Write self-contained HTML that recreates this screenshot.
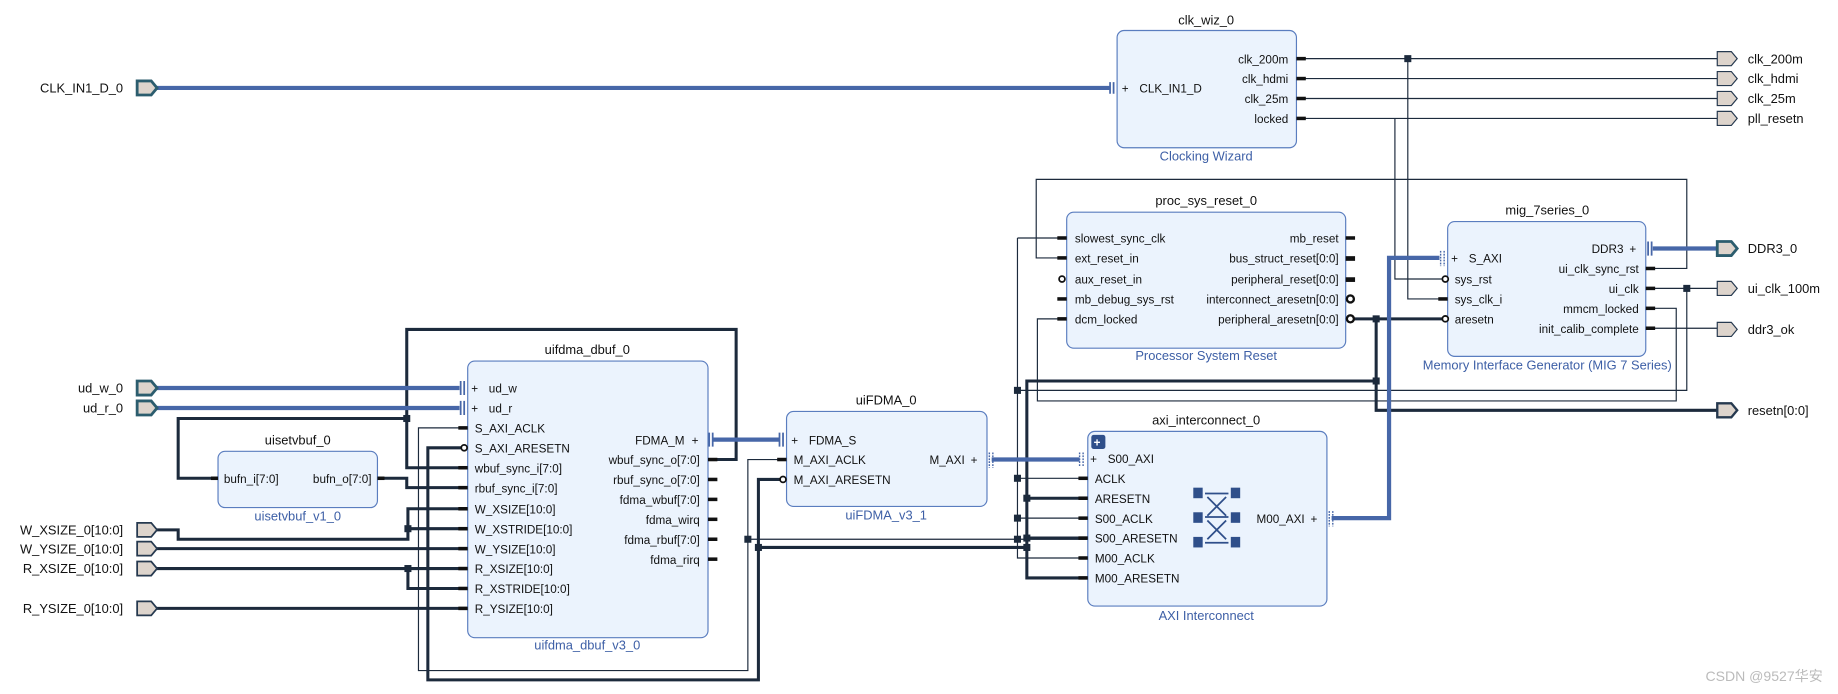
<!DOCTYPE html>
<html><head><meta charset="utf-8"><style>
html,body{margin:0;padding:0;background:#fff;}
svg{display:block}
text{font-family:"Liberation Sans","Noto Sans CJK SC",sans-serif;font-size:10px;fill:#111}
.t{font-size:11px;text-anchor:middle}
.s{font-size:11px;text-anchor:middle;fill:#3d5fa6}
.e{text-anchor:end}
.bx{fill:#ebf3fd;stroke:#5a7dbf;stroke-width:1}
.w{stroke:#1c2a3c;stroke-width:1;fill:none}
.W{stroke:#1c2a3c;stroke-width:2.6;fill:none}
.b{stroke:#4767a8;stroke-width:3.6;fill:none}
.p{fill:#ddd4cc;stroke:#26394f;stroke-width:1.5}
.pb{fill:#ddd4cc;stroke:#2c5d6e;stroke-width:2.4}
.pin{fill:#111}
.j{fill:#1c2a3c}
</style></head><body>
<svg width="1838" height="694" viewBox="0 0 1568 592" xmlns="http://www.w3.org/2000/svg">
<g class="w">
<path d="M1106 50H1465M1106 67H1465M1106 84H1465M1106 101H1465"/>
<path d="M1201 50V255H1233M1190 101V238H1233"/>
<path d="M1404 229H1439V153H884V220H910"/>
<path d="M1404 246H1465M1439 246V333H868M868 203H910M868 203V476H928M868 408H928M868 442H928M638 460H928"/>
<path d="M910 272H885V342H1430V263H1404"/>
<path d="M1404 280H1465"/>
<path d="M399 365H357V572H638V392H671"/>
</g>
<g class="W">
<path d="M1148 272H1233M1174 272V350H1465M1174 325H876V493H928M876 425H928M876 459H928M647 467H876"/>
<path d="M399 382H365V580H647V409H671"/>
<path d="M604 392H628V281H347V399H399M347 357H152V408H186M322 408H347V416H399"/>
<path d="M133 452H152V460H348V434H399M348 451H399M133 468H399M133 485H399M348 485V502H399M133 519H399"/>
</g>
<g class="b">
<path d="M133 75H947M133 331H392M133 348H392M608 375H665M846 392H921M1136 442H1185V220H1228M1410 212H1465"/>
</g>
<g class="j">
<rect x="1198" y="47" width="6" height="6"/><rect x="1436" y="243" width="6" height="6"/>
<rect x="865" y="330" width="6" height="6"/><rect x="865" y="405" width="6" height="6"/><rect x="865" y="439" width="6" height="6"/><rect x="865" y="457" width="6" height="6"/>
<rect x="873" y="422" width="6" height="6"/><rect x="873" y="456" width="6" height="6"/><rect x="873" y="464" width="6" height="6"/>
<rect x="1171" y="269" width="6" height="6"/><rect x="1171" y="322" width="6" height="6"/>
<rect x="344" y="354" width="6" height="6"/><rect x="345" y="448" width="6" height="6"/><rect x="345" y="482" width="6" height="6"/>
<rect x="635" y="457" width="6" height="6"/><rect x="644" y="464" width="6" height="6"/>
</g>
<g>
<polygon class="pb" points="117,69 129,69 134,75 129,81 117,81"/><text x="105" y="79" class="e" style="font-size:11px">CLK_IN1_D_0</text>
<polygon class="pb" points="117,325 129,325 134,331 129,337 117,337"/><text x="105" y="335" class="e" style="font-size:11px">ud_w_0</text>
<polygon class="pb" points="117,342 129,342 134,348 129,354 117,354"/><text x="105" y="352" class="e" style="font-size:11px">ud_r_0</text>
<polygon class="p" points="117,446 129,446 134,452 129,458 117,458"/><text x="105" y="456" class="e" style="font-size:11px">W_XSIZE_0[10:0]</text>
<polygon class="p" points="117,462 129,462 134,468 129,474 117,474"/><text x="105" y="472" class="e" style="font-size:11px">W_YSIZE_0[10:0]</text>
<polygon class="p" points="117,479 129,479 134,485 129,491 117,491"/><text x="105" y="489" class="e" style="font-size:11px">R_XSIZE_0[10:0]</text>
<polygon class="p" points="117,513 129,513 134,519 129,525 117,525"/><text x="105" y="523" class="e" style="font-size:11px">R_YSIZE_0[10:0]</text>
<polygon class="p" style="stroke-width:1" points="1465,44 1477,44 1482,50 1477,56 1465,56"/><text x="1491" y="54" style="font-size:11px">clk_200m</text>
<polygon class="p" style="stroke-width:1" points="1465,61 1477,61 1482,67 1477,73 1465,73"/><text x="1491" y="71" style="font-size:11px">clk_hdmi</text>
<polygon class="p" style="stroke-width:1" points="1465,78 1477,78 1482,84 1477,90 1465,90"/><text x="1491" y="88" style="font-size:11px">clk_25m</text>
<polygon class="p" style="stroke-width:1" points="1465,95 1477,95 1482,101 1477,107 1465,107"/><text x="1491" y="105" style="font-size:11px">pll_resetn</text>
<polygon class="pb" points="1465,206 1477,206 1482,212 1477,218 1465,218"/><text x="1491" y="216" style="font-size:11px">DDR3_0</text>
<polygon class="p" style="stroke-width:1" points="1465,240 1477,240 1482,246 1477,252 1465,252"/><text x="1491" y="250" style="font-size:11px">ui_clk_100m</text>
<polygon class="p" style="stroke-width:1" points="1465,275 1477,275 1482,281 1477,287 1465,287"/><text x="1491" y="285" style="font-size:11px">ddr3_ok</text>
<polygon class="p" style="stroke-width:2" points="1465,344 1477,344 1482,350 1477,356 1465,356"/><text x="1491" y="354" style="font-size:11px">resetn[0:0]</text>
</g>
<rect class="bx" x="953" y="26" width="153" height="100" rx="6"/>
<text class="t" x="1029" y="21">clk_wiz_0</text><text class="s" x="1029" y="137">Clocking Wizard</text>
<path d="M947 70V80M950 70V80" stroke="#4767a8" stroke-width="1.5"/>
<text x="957" y="79">+</text><text x="972" y="79">CLK_IN1_D</text>
<g class="pin"><rect x="1106" y="48.5" width="8" height="3"/><rect x="1106" y="65.5" width="8" height="3"/><rect x="1106" y="82.5" width="8" height="3"/><rect x="1106" y="99.5" width="8" height="3"/></g>
<text class="e" x="1099" y="54">clk_200m</text><text class="e" x="1099" y="71">clk_hdmi</text><text class="e" x="1099" y="88">clk_25m</text><text class="e" x="1099" y="105">locked</text>
<rect class="bx" x="910" y="181" width="238" height="116" rx="6"/>
<text class="t" x="1029" y="175">proc_sys_reset_0</text><text class="s" x="1029" y="307">Processor System Reset</text>
<g class="pin"><rect x="902" y="201.5" width="8" height="3"/><rect x="902" y="218.5" width="8" height="3"/><rect x="902" y="253.5" width="8" height="3"/><rect x="902" y="270.5" width="8" height="3"/>
<rect x="1148" y="201.5" width="8" height="3"/><rect x="1148" y="218.5" width="8" height="4"/><rect x="1148" y="236.5" width="8" height="4"/></g>
<circle cx="906" cy="238" r="2.5" fill="#fff" stroke="#111" stroke-width="1.5"/>
<circle cx="1152" cy="255" r="3" fill="#fff" stroke="#111" stroke-width="2"/><circle cx="1152" cy="272" r="3" fill="#fff" stroke="#111" stroke-width="2"/>
<text x="917" y="207">slowest_sync_clk</text><text x="917" y="224">ext_reset_in</text><text x="917" y="242">aux_reset_in</text><text x="917" y="259">mb_debug_sys_rst</text><text x="917" y="276">dcm_locked</text>
<text class="e" x="1142" y="207">mb_reset</text><text class="e" x="1142" y="224">bus_struct_reset[0:0]</text><text class="e" x="1142" y="242">peripheral_reset[0:0]</text><text class="e" x="1142" y="259">interconnect_aresetn[0:0]</text><text class="e" x="1142" y="276">peripheral_aresetn[0:0]</text>
<rect class="bx" x="1235" y="189" width="169" height="115" rx="6"/>
<text class="t" x="1320" y="183">mig_7series_0</text><text class="s" x="1320" y="315">Memory Interface Generator (MIG 7 Series)</text>
<path d="M1229 214V227M1232 214V227" stroke="#4767a8" stroke-width="1.2" stroke-dasharray="1.5 1"/>
<text x="1238" y="224">+</text><text x="1253" y="224">S_AXI</text>
<circle cx="1233" cy="238" r="2.5" fill="#fff" stroke="#111" stroke-width="1.5"/><circle cx="1233" cy="272" r="2.5" fill="#fff" stroke="#111" stroke-width="1.5"/>
<rect class="pin" x="1227" y="253.5" width="8" height="3"/>
<text x="1241" y="242">sys_rst</text><text x="1241" y="259">sys_clk_i</text><text x="1241" y="276">aresetn</text>
<text class="e" x="1385" y="216">DDR3</text><text x="1390" y="216">+</text>
<path d="M1406 206V218M1409 206V218" stroke="#4767a8" stroke-width="1.5"/>
<g class="pin"><rect x="1404" y="227.5" width="8" height="3"/><rect x="1404" y="244.5" width="8" height="3"/><rect x="1404" y="261.5" width="8" height="3"/><rect x="1404" y="278.5" width="8" height="3"/></g>
<text class="e" x="1398" y="233">ui_clk_sync_rst</text><text class="e" x="1398" y="250">ui_clk</text><text class="e" x="1398" y="267">mmcm_locked</text><text class="e" x="1398" y="284">init_calib_complete</text>
<rect class="bx" x="928" y="368" width="204" height="149" rx="6"/>
<text class="t" x="1029" y="362">axi_interconnect_0</text><text class="s" x="1029" y="529">AXI Interconnect</text>
<rect x="931" y="371" width="12" height="12" rx="2" fill="#2f4f8a"/><text x="933" y="381" style="fill:#fff;font-weight:bold">+</text>
<path d="M921 386V398M924 386V398" stroke="#4767a8" stroke-width="1.2" stroke-dasharray="1.5 1"/>
<text x="930" y="395">+</text><text x="945" y="395">S00_AXI</text>
<g class="pin"><rect x="920" y="406.5" width="8" height="3"/><rect x="920" y="423.5" width="8" height="3"/><rect x="920" y="440.5" width="8" height="3"/><rect x="920" y="457.5" width="8" height="3"/><rect x="920" y="474.5" width="8" height="3"/><rect x="920" y="491.5" width="8" height="3"/></g>
<text x="934" y="412">ACLK</text><text x="934" y="429">ARESETN</text><text x="934" y="446">S00_ACLK</text><text x="934" y="463">S00_ARESETN</text><text x="934" y="480">M00_ACLK</text><text x="934" y="497">M00_ARESETN</text>
<g fill="#2f4f8a"><rect x="1018" y="416" width="8" height="9"/><rect x="1050" y="416" width="8" height="9"/><rect x="1018" y="437" width="8" height="9"/><rect x="1050" y="437" width="8" height="9"/><rect x="1018" y="458" width="8" height="9"/><rect x="1050" y="458" width="8" height="9"/></g>
<path d="M1028 421H1048M1030 424L1046 440M1046 424L1030 440M1028 441H1048M1030 444L1046 460M1046 444L1030 460M1028 463H1048" stroke="#2f4f8a" stroke-width="1.5"/>
<text class="e" x="1113" y="446">M00_AXI</text><text x="1118" y="446">+</text>
<path d="M1134 436V449M1137 436V449" stroke="#4767a8" stroke-width="1.2" stroke-dasharray="1.5 1"/>
<rect class="bx" x="671" y="351" width="171" height="81" rx="6"/>
<text class="t" x="756" y="345">uiFDMA_0</text><text class="s" x="756" y="443">uiFDMA_v3_1</text>
<path d="M665 369V381M668 369V381" stroke="#4767a8" stroke-width="1.5"/>
<text x="675" y="379">+</text><text x="690" y="379">FDMA_S</text>
<rect class="pin" x="663" y="390.5" width="8" height="3"/><circle cx="668" cy="409" r="2.5" fill="#fff" stroke="#111" stroke-width="1.5"/>
<text x="677" y="396">M_AXI_ACLK</text><text x="677" y="413">M_AXI_ARESETN</text>
<text class="e" x="823" y="396">M_AXI</text><text x="828" y="396">+</text>
<path d="M844 386V399M847 386V399" stroke="#4767a8" stroke-width="1.2" stroke-dasharray="1.5 1"/>
<rect class="bx" x="399" y="308" width="205" height="236" rx="6"/>
<text class="t" x="501" y="302">uifdma_dbuf_0</text><text class="s" x="501" y="554">uifdma_dbuf_v3_0</text>
<path d="M393 325V337M396 325V337M393 342V354M396 342V354" stroke="#4767a8" stroke-width="1.5"/>
<text x="402" y="335">+</text><text x="417" y="335">ud_w</text><text x="402" y="352">+</text><text x="417" y="352">ud_r</text>
<g class="pin"><rect x="391" y="363.5" width="8" height="3"/><rect x="391" y="397.5" width="8" height="3"/><rect x="391" y="414.5" width="8" height="3"/><rect x="391" y="432.5" width="8" height="3"/><rect x="391" y="449.5" width="8" height="3"/><rect x="391" y="466.5" width="8" height="3"/><rect x="391" y="483.5" width="8" height="3"/><rect x="391" y="500.5" width="8" height="3"/><rect x="391" y="517.5" width="8" height="3"/>
<rect x="604" y="390.5" width="8" height="3"/><rect x="604" y="407.5" width="8" height="3"/><rect x="604" y="424.5" width="8" height="3"/><rect x="604" y="441.5" width="8" height="3"/><rect x="604" y="458.5" width="8" height="3"/><rect x="604" y="475.5" width="8" height="3"/></g>
<circle cx="396" cy="382" r="2.5" fill="#fff" stroke="#111" stroke-width="1.5"/>
<text x="405" y="369">S_AXI_ACLK</text><text x="405" y="386">S_AXI_ARESETN</text><text x="405" y="403">wbuf_sync_i[7:0]</text><text x="405" y="420">rbuf_sync_i[7:0]</text><text x="405" y="438">W_XSIZE[10:0]</text><text x="405" y="455">W_XSTRIDE[10:0]</text><text x="405" y="472">W_YSIZE[10:0]</text><text x="405" y="489">R_XSIZE[10:0]</text><text x="405" y="506">R_XSTRIDE[10:0]</text><text x="405" y="523">R_YSIZE[10:0]</text>
<text class="e" x="584" y="379">FDMA_M</text><text x="590" y="379">+</text>
<path d="M605 369V381M608 369V381" stroke="#4767a8" stroke-width="1.5"/>
<text class="e" x="597" y="396">wbuf_sync_o[7:0]</text><text class="e" x="597" y="413">rbuf_sync_o[7:0]</text><text class="e" x="597" y="430">fdma_wbuf[7:0]</text><text class="e" x="597" y="447">fdma_wirq</text><text class="e" x="597" y="464">fdma_rbuf[7:0]</text><text class="e" x="597" y="481">fdma_rirq</text>
<rect class="bx" x="186" y="385" width="136" height="48" rx="6"/>
<text class="t" x="254" y="379">uisetvbuf_0</text><text class="s" x="254" y="444">uisetvbuf_v1_0</text>
<rect class="pin" x="180" y="406.5" width="6" height="3"/><rect class="pin" x="322" y="406.5" width="6" height="3"/>
<text x="191" y="412">bufn_i[7:0]</text><text class="e" x="317" y="412">bufn_o[7:0]</text>
<text x="1555" y="581" class="e" style="font-size:12px;fill:#bbb">CSDN @9527华安</text>
</svg>
</body></html>
